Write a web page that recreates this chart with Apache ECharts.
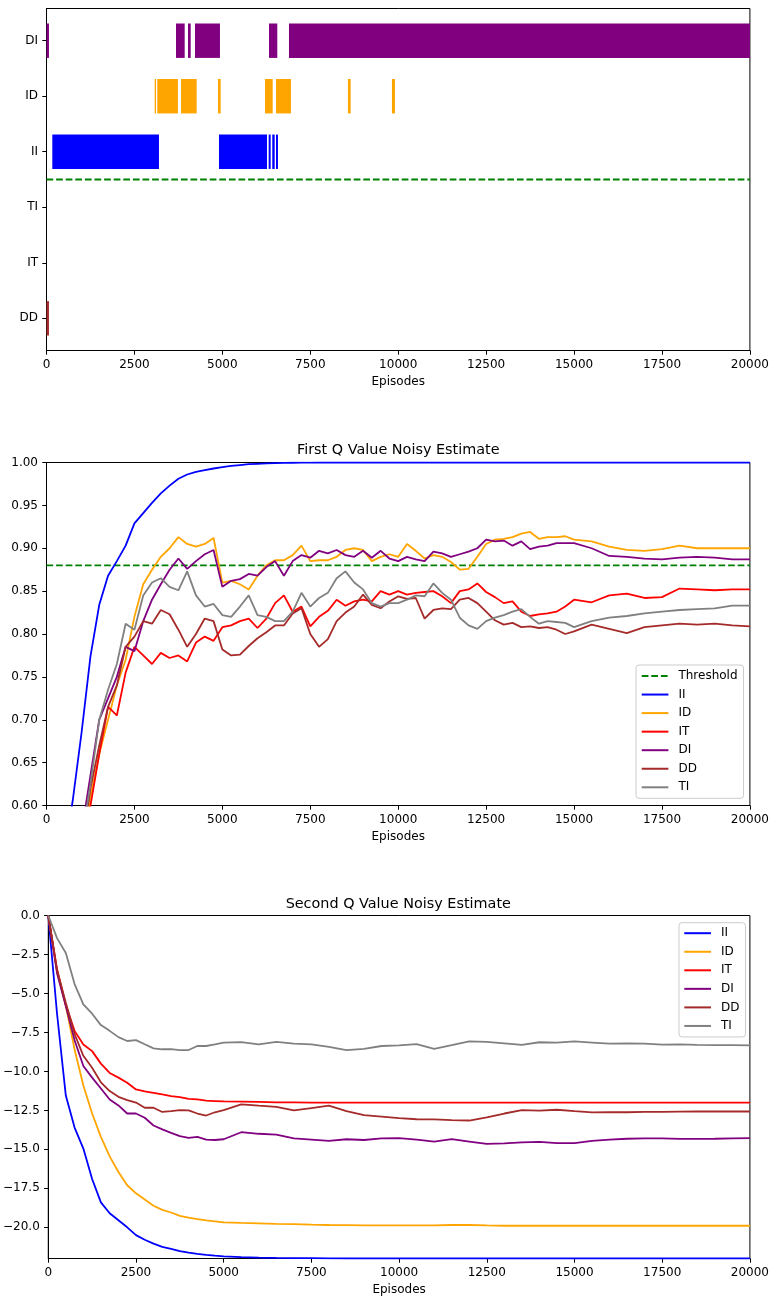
<!DOCTYPE html>
<html>
<head>
<meta charset="utf-8">
<script src="https://cdn.jsdelivr.net/npm/echarts@6/dist/echarts.min.js"></script>
<style>html,body{margin:0;padding:0;background:#fff}#c{width:772px;height:1300px}</style>
</head>
<body>
<div id="c"></div>
<script>
// ---------- categories / labels ----------
const actions = ['DD', 'IT', 'TI', 'II', 'ID', 'DI'];          // rows of the top panel, bottom to top
const seriesNames = ['II', 'ID', 'IT', 'DI', 'DD', 'TI'];
const colors = {II: '#0000ff', ID: '#ffa500', IT: '#ff0000', DI: '#800080', DD: '#a52a2a', TI: '#808080'};
const thresholdColor = '#008000';
const xTicks = [0, 2500, 5000, 7500, 10000, 12500, 15000, 17500, 20000];
const rowTicks = [0, 1, 2, 3, 4, 5];
const midYTicks = [0.60, 0.65, 0.70, 0.75, 0.80, 0.85, 0.90, 0.95, 1.00];
const botYTicks = [0, -2.5, -5, -7.5, -10, -12.5, -15, -17.5, -20];

// ---------- top panel: selected action segments [startEpisode, endEpisode] ----------
const segDI = [[0, 70], [3682, 3929], [4023, 4100], [4222, 4932], [6326, 6562], [6894, 20000]];
const segID = [[3076, 3113], [3150, 3738], [3824, 4270], [4876, 4952], [6212, 6431], [6525, 6951], [8571, 8648], [9822, 9908]];
const segII = [[165, 3198], [4904, 6269], [6317, 6374], [6419, 6488], [6525, 6581]];
const segDD = [[0, 70]];
const thresholdRow = 2.5;
const thresholdQ = 0.88;

// ---------- middle panel: first Q value ----------
const midEpisodes = [0,250,500,750,1000,1250,1500,1750,2000,2250,2500,2750,3000,3250,3500,3750,4000,4250,4500,4750,5000,5250,5500,5750,6000,6250,6500,6750,7000,7250,7500,7750,8000,8250,8500,8750,9000,9250,9500,9750,10000,10250,10500,10750,11000,11250,11500,11750,12000,12250,12500,12750,13000,13250,13500,13750,14000,14250,14500,14750,15000,15500,16000,16500,17000,17500,18000,18500,19000,19500,20000];
const q1II = [null,null,0.54,0.607,0.686,0.774,0.834,0.868,0.885,0.903,0.929,0.941,0.953,0.964,0.973,0.981,0.986,0.989,0.991,0.993,0.9945,0.996,0.997,0.998,0.9985,0.999,0.9993,0.9995,0.9997,0.9998,0.9999,1.0,1.0,1.0,1.0,1.0,1.0,1.0,1.0,1.0,1.0,1.0,1.0,1.0,1.0,1.0,1.0,1.0,1.0,1.0,1.0,1.0,1.0,1.0,1.0,1.0,1.0,1.0,1.0,1.0,1.0,1.0,1.0,1.0,1.0,1.0,1.0,1.0,1.0,1.0,1.0];
const q1ID = [null,null,null,null,0.55,0.61,0.66,0.70,0.74,0.77,0.82,0.858,0.875,0.89,0.90,0.913,0.905,0.902,0.905,0.912,0.86,0.862,0.858,0.852,0.868,0.88,0.886,0.886,0.892,0.903,0.885,0.886,0.886,0.89,0.898,0.90,0.898,0.885,0.89,0.893,0.89,0.905,0.897,0.888,0.892,0.89,0.884,0.875,0.876,0.89,0.905,0.91,0.911,0.913,0.917,0.919,0.911,0.913,0.913,0.914,0.910,0.908,0.902,0.898,0.897,0.899,0.903,0.90,0.90,0.90,0.90];
const q1IT = [null,null,null,null,0.53,0.60,0.66,0.715,0.705,0.755,0.785,0.775,0.765,0.778,0.772,0.775,0.768,0.79,0.797,0.792,0.808,0.81,0.815,0.818,0.807,0.818,0.836,0.845,0.826,0.832,0.809,0.82,0.827,0.84,0.833,0.838,0.84,0.838,0.85,0.846,0.85,0.846,0.848,0.849,0.85,0.844,0.836,0.85,0.852,0.859,0.849,0.843,0.836,0.838,0.826,0.821,0.823,0.824,0.826,0.832,0.84,0.837,0.845,0.847,0.842,0.843,0.853,0.852,0.851,0.852,0.852];
const q1DI = [null,null,null,null,0.57,0.635,0.70,0.725,0.75,0.785,0.78,0.815,0.84,0.858,0.875,0.888,0.876,0.885,0.893,0.898,0.855,0.862,0.864,0.870,0.868,0.878,0.885,0.868,0.885,0.892,0.889,0.897,0.894,0.898,0.892,0.89,0.897,0.889,0.897,0.888,0.885,0.89,0.887,0.885,0.896,0.894,0.89,0.893,0.896,0.90,0.91,0.908,0.909,0.903,0.908,0.899,0.902,0.903,0.906,0.906,0.906,0.90,0.891,0.89,0.888,0.887,0.889,0.89,0.889,0.887,0.887];
const q1DD = [null,null,null,null,0.55,0.62,0.67,0.715,0.74,0.785,0.797,0.815,0.812,0.828,0.823,0.805,0.785,0.80,0.818,0.815,0.782,0.775,0.776,0.786,0.795,0.802,0.81,0.81,0.824,0.83,0.80,0.785,0.794,0.815,0.825,0.832,0.846,0.834,0.83,0.838,0.844,0.841,0.842,0.818,0.828,0.83,0.829,0.84,0.842,0.836,0.826,0.816,0.811,0.813,0.808,0.809,0.807,0.808,0.805,0.800,0.803,0.811,0.806,0.801,0.808,0.81,0.812,0.811,0.812,0.81,0.809];
const q1TI = [null,null,null,null,0.56,0.625,0.70,0.735,0.765,0.812,0.805,0.845,0.86,0.865,0.855,0.851,0.873,0.845,0.832,0.835,0.822,0.82,0.832,0.845,0.822,0.82,0.815,0.815,0.826,0.848,0.832,0.842,0.848,0.865,0.873,0.86,0.852,0.836,0.832,0.836,0.836,0.84,0.845,0.844,0.859,0.848,0.84,0.819,0.81,0.806,0.815,0.819,0.822,0.826,0.829,0.82,0.812,0.815,0.814,0.813,0.808,0.815,0.819,0.821,0.824,0.826,0.828,0.829,0.83,0.833,0.833];

// ---------- bottom panel: second Q value ----------
const botEpisodes = [0,250,500,750,1000,1250,1500,1750,2000,2250,2500,2750,3000,3250,3500,3750,4000,4250,4500,4750,5000,5500,6000,6500,7000,7500,8000,8500,9000,9500,10000,10500,11000,11500,12000,12500,13000,13500,14000,14500,15000,15500,16000,16500,17000,17500,18000,18500,19000,19500,20000];
const q2II = [0,-6.3,-11.55,-13.6,-14.95,-16.9,-18.4,-19.1,-19.55,-20.0,-20.5,-20.8,-21.05,-21.25,-21.38,-21.52,-21.62,-21.7,-21.77,-21.82,-21.86,-21.91,-21.94,-21.96,-21.97,-21.98,-21.99,-22,-22,-22,-22,-22,-22,-22,-22,-22,-22,-22,-22,-22,-22,-22,-22,-22,-22,-22,-22,-22,-22,-22,-22];
const q2ID = [0,-3.6,-5.8,-8.6,-10.9,-12.7,-14.2,-15.45,-16.45,-17.3,-17.82,-18.22,-18.62,-18.88,-19.05,-19.27,-19.38,-19.48,-19.56,-19.62,-19.68,-19.72,-19.75,-19.78,-19.8,-19.83,-19.85,-19.86,-19.87,-19.88,-19.88,-19.88,-19.87,-19.85,-19.85,-19.88,-19.9,-19.9,-19.9,-19.9,-19.9,-19.9,-19.9,-19.9,-19.9,-19.9,-19.9,-19.9,-19.9,-19.9,-19.9];
const q2IT = [0,-3.45,-5.75,-7.4,-8.27,-8.7,-9.5,-10.1,-10.4,-10.73,-11.16,-11.28,-11.37,-11.48,-11.58,-11.65,-11.76,-11.8,-11.88,-11.9,-11.92,-11.94,-11.96,-11.98,-11.99,-12.0,-12.0,-12.0,-12.0,-12.0,-12.0,-12.0,-12.0,-12.0,-12.0,-12.0,-12.0,-12.0,-12.0,-12.0,-12.0,-12.0,-12.0,-12.0,-12.0,-12.0,-12.0,-12.0,-12.0,-12.0,-12.0];
const q2DI = [0,-3.7,-5.8,-8.0,-9.65,-10.4,-11.1,-11.8,-12.18,-12.7,-12.7,-12.97,-13.47,-13.72,-13.94,-14.15,-14.26,-14.2,-14.37,-14.4,-14.35,-13.9,-14.0,-14.05,-14.3,-14.37,-14.45,-14.35,-14.4,-14.3,-14.28,-14.37,-14.5,-14.35,-14.5,-14.65,-14.62,-14.55,-14.52,-14.6,-14.6,-14.45,-14.38,-14.32,-14.3,-14.3,-14.33,-14.33,-14.32,-14.3,-14.28];
const q2DD = [0,-3.5,-5.6,-7.6,-9.0,-9.76,-10.7,-11.26,-11.63,-11.84,-12.0,-12.33,-12.33,-12.6,-12.55,-12.48,-12.5,-12.7,-12.83,-12.62,-12.48,-12.12,-12.2,-12.27,-12.5,-12.35,-12.2,-12.55,-12.8,-12.9,-13.0,-13.07,-13.08,-13.12,-13.15,-12.95,-12.7,-12.48,-12.52,-12.46,-12.55,-12.63,-12.62,-12.62,-12.6,-12.59,-12.58,-12.57,-12.57,-12.57,-12.57];
const q2TI = [0,-1.45,-2.4,-4.4,-5.7,-6.3,-7.03,-7.4,-7.8,-8.05,-7.99,-8.26,-8.52,-8.58,-8.57,-8.63,-8.63,-8.37,-8.37,-8.27,-8.16,-8.12,-8.27,-8.1,-8.22,-8.27,-8.42,-8.63,-8.55,-8.37,-8.33,-8.25,-8.55,-8.32,-8.08,-8.1,-8.2,-8.3,-8.13,-8.15,-8.08,-8.15,-8.22,-8.2,-8.22,-8.28,-8.27,-8.3,-8.31,-8.32,-8.33];

// ---------- build chart ----------
const FONT = 'DejaVu Sans';
const LW = 1.8;
const DASH = [6.7, 2.9];
const BAR_HALF = 0.31;
const q1 = {II: q1II, ID: q1ID, IT: q1IT, DI: q1DI, DD: q1DD, TI: q1TI};
const q2 = {II: q2II, ID: q2ID, IT: q2IT, DI: q2DI, DD: q2DD, TI: q2TI};
const segs = {DI: segDI, ID: segID, II: segII, DD: segDD};
const xMin = xTicks[0], xMax = xTicks[xTicks.length - 1];

const grids = [
  {left: 46.5, right: 21.5, top: 8.5, height: 342},
  {left: 46.5, right: 21.5, top: 462.5, height: 343},
  {left: 46.5, right: 21.5, top: 915.5, height: 343}
].map(g => Object.assign(g, {show: true, borderColor: '#000', borderWidth: 1, backgroundColor: 'transparent'}));

const labelStyle = {fontFamily: FONT, fontSize: 12, color: '#000'};
function xAxis(gi) {
  return {
    gridIndex: gi, type: 'value', min: xMin, max: xMax, interval: 2500,
    name: 'Episodes', nameLocation: 'middle', nameGap: 25,
    nameTextStyle: {fontFamily: FONT, fontSize: 12, color: '#000'},
    axisLine: {show: true, onZero: false, lineStyle: {color: '#000', width: 1}},
    axisTick: {show: true, length: 4.2, lineStyle: {color: '#000', width: 1}},
    axisLabel: Object.assign({margin: 8, formatter: v => String(v)}, labelStyle),
    splitLine: {show: false}
  };
}
function yAxis(gi, min, max, ticks, fmt) {
  return {
    gridIndex: gi, type: 'value', min: min, max: max,
    axisLine: {show: true, onZero: false, lineStyle: {color: '#000', width: 1}},
    axisTick: {show: true, length: 4.2, customValues: ticks, lineStyle: {color: '#000', width: 1}},
    axisLabel: Object.assign({margin: 8.5, customValues: ticks, formatter: fmt}, labelStyle),
    splitLine: {show: false}
  };
}

const series = [];
// top panel: selection segments
Object.keys(segs).forEach(act => {
  const row = actions.indexOf(act);
  series.push({
    type: 'custom', name: 'sel-' + act, xAxisIndex: 0, yAxisIndex: 0,
    data: segs[act].map(s => [s[0], s[1], row]),
    encode: {x: [0, 1], y: 2},
    itemStyle: {color: colors[act]},
    renderItem: function (params, api) {
      const r = api.value(2);
      const a = api.coord([api.value(0), r + BAR_HALF]);
      const b = api.coord([api.value(1), r - BAR_HALF]);
      return {type: 'rect', shape: {x: a[0], y: a[1], width: Math.max(b[0] - a[0], 1), height: b[1] - a[1]}, style: {fill: colors[act]}};
    }
  });
});
series.push({
  type: 'line', name: 'thr-top', xAxisIndex: 0, yAxisIndex: 0, symbol: 'none',
  data: [[xMin, thresholdRow], [xMax, thresholdRow]],
  lineStyle: {color: thresholdColor, width: LW, type: DASH}, z: 3
});
// middle panel
series.push({
  type: 'line', name: 'Threshold', xAxisIndex: 1, yAxisIndex: 1, symbol: 'none',
  data: [[xMin, thresholdQ], [xMax, thresholdQ]],
  lineStyle: {color: thresholdColor, width: LW, type: DASH}, itemStyle: {color: thresholdColor}, z: 3
});
seriesNames.forEach(n => {
  series.push({
    type: 'line', name: n, xAxisIndex: 1, yAxisIndex: 1, symbol: 'none',
    data: midEpisodes.map((e, i) => [e, q1[n][i]]),
    lineStyle: {color: colors[n], width: LW}, itemStyle: {color: colors[n]}, z: 3
  });
});
// bottom panel
seriesNames.forEach(n => {
  series.push({
    type: 'line', name: n, xAxisIndex: 2, yAxisIndex: 2, symbol: 'none',
    data: botEpisodes.map((e, i) => [e, q2[n][i]]),
    lineStyle: {color: colors[n], width: LW}, itemStyle: {color: colors[n]}, z: 3
  });
});

const legendCommon = {
  orient: 'vertical', itemWidth: 26.7, itemHeight: 14, itemGap: 4.55,
  backgroundColor: 'rgba(255,255,255,0.8)', borderColor: '#cccccc', borderWidth: 1, borderRadius: 3,
  selectedMode: false, itemStyle: {opacity: 0},
  textStyle: {fontFamily: FONT, fontSize: 12, color: '#000', lineHeight: 14, padding: [0, 0, 0, 5]}
};

const option = {
  animation: false,
  backgroundColor: '#fff',
  title: [
    {text: 'First Q Value Noisy Estimate', left: 398.25, top: 443.5, textAlign: 'center', padding: 0,
     textStyle: {fontFamily: FONT, fontSize: 14.4, fontWeight: 'normal', color: '#000'}},
    {text: 'Second Q Value Noisy Estimate', left: 398.25, top: 896.8, textAlign: 'center', padding: 0,
     textStyle: {fontFamily: FONT, fontSize: 14.4, fontWeight: 'normal', color: '#000'}}
  ],
  legend: [
    Object.assign({}, legendCommon, {left: 636, top: 665, padding: [4, 6, 4, 4.7], data: ['Threshold'].concat(seriesNames)}),
    Object.assign({}, legendCommon, {left: 679, top: 922.7, padding: [3.5, 6, 4, 4.3], data: seriesNames.slice()})
  ],
  grid: grids,
  xAxis: [xAxis(0), xAxis(1), xAxis(2)],
  yAxis: [
    yAxis(0, -0.58, 5.58, rowTicks, v => actions[Math.round(v)]),
    yAxis(1, 0.6, 1.0, midYTicks, v => v.toFixed(2)),
    yAxis(2, -22, 0, botYTicks, v => (v === 0 ? '0.0' : '\u2212' + Math.abs(v).toFixed(1)))
  ],
  series: series
};

const chart = echarts.init(document.getElementById('c'), null, {renderer: 'canvas', width: 772, height: 1300});
chart.setOption(option);
</script>
</body>
</html>
